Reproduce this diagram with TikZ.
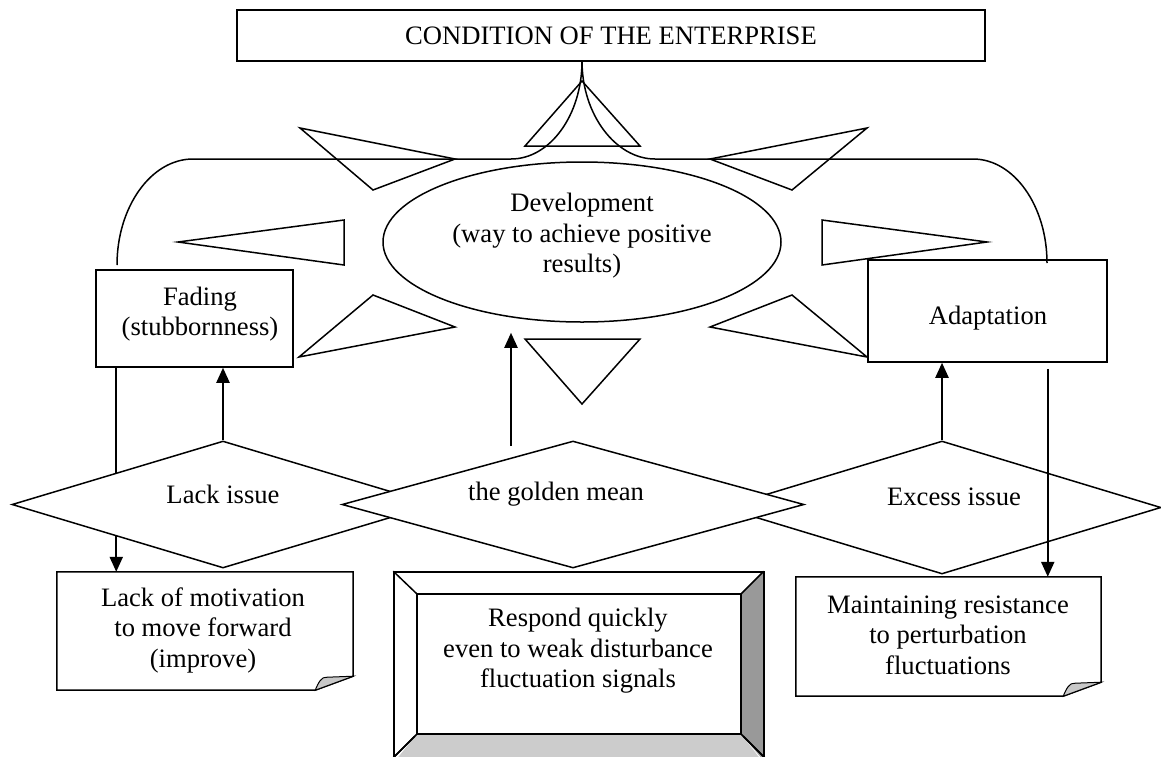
\documentclass[tikz,border=0pt]{standalone}
\usepackage{fontspec}
\setmainfont{Liberation Serif}
\usetikzlibrary{shapes.geometric,arrows.meta,calc}
\definecolor{bevR}{HTML}{999999}
\definecolor{bevB}{HTML}{CCCCCC}
\definecolor{foldc}{HTML}{C8C8C8}
\begin{document}
\begin{tikzpicture}[x=1pt,y=-1pt,
  shp/.style={draw=black,line width=1.5pt},
  txt/.style={font=\fontsize{26.6}{30.5}\selectfont,align=center,inner sep=0pt},
  arr/.style={line width=2.2pt,-{Triangle[width=13pt,length=15pt]}},
  conn/.style={line width=1.5pt},
  dia/.style={shp,diamond,fill=white,inner sep=0pt,aspect=3.5},
  rbox/.style={shp,rectangle,fill=white,inner sep=0pt},
  ebox/.style={rectangle,inner sep=0pt}
]
\useasboundingbox (0,0) rectangle (1161,756);

% top box
\node[rbox,minimum width=748pt,minimum height=51pt] (top) at (611,35.5) {};
\node[txt] (topT) at (611,36) {CONDITION OF THE ENTERPRISE};

% ellipse
\node[shp,ellipse,minimum width=398pt,minimum height=160pt,inner sep=0pt] (dev) at (582,242) {};
\node[txt] (devT) at (582,236) {Development\\(way to achieve positive\\results)};

% triangles
\draw[shp] (300,128) -- (455,159) -- (373,190) -- cycle;
\draw[shp] (867,128) -- (710,159) -- (792,190) -- cycle;
\draw[shp] (178,242) -- (344,220) -- (344,265) -- cycle;
\draw[shp] (987,242) -- (822,220) -- (822,265) -- cycle;
\draw[shp] (373,295) -- (455,327) -- (299,357) -- cycle;
\draw[shp] (792,295) -- (710,327) -- (867,357) -- cycle;
\draw[shp] (582,81) -- (640,146) -- (525,146) -- cycle;
\draw[shp] (525,339) -- (640,339) -- (582,404) -- cycle;

% side boxes
\node[rbox,minimum width=197pt,minimum height=97pt] (fad) at (194.5,318.5) {};
\node[txt] (fadT) at (200,314) {Fading\\(stubbornness)};
\node[rbox,minimum width=239pt,minimum height=102pt] (ada) at (987.5,311) {};
\node[txt] (adaT) at (988,318) {Adaptation};

% curves from the top box
\coordinate (cusp) at (582,61);
\coordinate (lend) at (117,265);
\coordinate (rend) at (1047,263);
\draw[conn] (cusp) .. controls (582,115) and (550,159) .. (511,159) -- (193,159)
  .. controls (151,159) and (117,207) .. (lend);
\draw[conn] (cusp) .. controls (582,115) and (616,159) .. (655,159) -- (973,159)
  .. controls (1014,159) and (1047,206) .. (rend);

% notes (positions)
\node[ebox,minimum width=296pt,minimum height=118pt] (lom) at (205,631) {};
\node[ebox,minimum width=305pt,minimum height=119pt] (mnt) at (948.5,636.5) {};

% line fading -> lack of motivation (under the diamond)
\draw[arr] ([xshift=21pt]fad.south west) -- ([xshift=21pt]fad.south west |- lom.north);

% diamonds
\node[dia,minimum width=422pt,minimum height=127pt] (lack) at (223,504.5) {};
\node[txt] (lackT) at (223,494) {Lack issue};
\node[dia,minimum width=438pt,minimum height=133pt] (exc) at (942,507.5) {};
\node[txt] (excT) at (954,497) {Excess issue};
\node[dia,minimum width=462pt,minimum height=127pt] (gold) at (573,504.5) {};
\node[txt] (goldT) at (556,494) {the golden mean};

% arrows
\draw[arr] (lack.north) -- (lack.north |- fad.south);
\draw[arr] (exc.north) -- (exc.north |- ada.south);
\coordinate (gstart) at (511,446);
\draw[arr] (gstart) -- ([yshift=-10pt]dev.south -| gstart);
\draw[arr] ([xshift=-60pt,yshift=-6pt]ada.south east) -- ([xshift=-60pt]ada.south east |- mnt.north);

% note outlines with folded corners
\draw[shp,fill=white] (lom.north west) -- (lom.north east) -- ([yshift=14pt]lom.south east)
  -- ([xshift=-38pt]lom.south east) -- (lom.south west) -- cycle;
\filldraw[fill=foldc,line width=1pt] ([xshift=-38pt]lom.south east)
  .. controls +(3,-7) and +(-6,-1) .. ([xshift=-26pt,yshift=13pt]lom.south east)
  -- ([yshift=14pt]lom.south east) -- cycle;
\node[txt] (lomT) at (203,630) {Lack of motivation\\to move forward\\(improve)};

\draw[shp,fill=white] (mnt.north west) -- (mnt.north east) -- ([yshift=14pt]mnt.south east)
  -- ([xshift=-38pt]mnt.south east) -- (mnt.south west) -- cycle;
\filldraw[fill=foldc,line width=1pt] ([xshift=-38pt]mnt.south east)
  .. controls +(3,-7) and +(-6,-1) .. ([xshift=-26pt,yshift=13pt]mnt.south east)
  -- ([yshift=14pt]mnt.south east) -- cycle;
\node[txt] (mntT) at (948,635) {Maintaining resistance\\to perturbation\\fluctuations};

% bevel box
\node[rbox,minimum width=369pt,minimum height=188pt] (resp) at (578.5,666) {};
\node[ebox,minimum width=324pt,minimum height=140pt] (respin) at (579,664) {};
\fill[bevR] (respin.north east) -- (resp.north east) -- (resp.south east) -- (respin.south east) -- cycle;
\fill[bevB] (respin.south west) -- (respin.south east) -- ([xshift=-2pt]resp.south east) -- ([xshift=2pt]resp.south west) -- cycle;
\draw[shp] (resp.north west) rectangle (resp.south east);
\draw[shp] (respin.north west) rectangle (respin.south east);
\draw[shp] (resp.north west) -- (respin.north west);
\draw[shp] (resp.north east) -- (respin.north east);
\draw[shp] ([xshift=-2pt,yshift=-2pt]respin.south west) -- ([xshift=-24pt,yshift=-24pt]respin.south west);
\draw[shp] ([xshift=2pt,yshift=-2pt]respin.south east) -- ([xshift=24pt,yshift=-24pt]respin.south east);
\draw[shp] (respin.south west) -- ([xshift=-24pt,yshift=-24pt]respin.south west);
\draw[shp] (respin.south east) -- ([xshift=24pt,yshift=-24pt]respin.south east);
\node[txt] (respT) at (578,651) {Respond quickly\\even to weak disturbance\\fluctuation signals};
\end{tikzpicture}
\end{document}
